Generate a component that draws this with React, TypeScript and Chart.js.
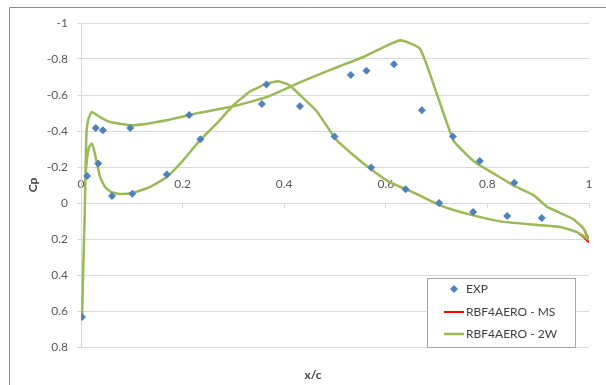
import React, { useEffect, useRef } from "react";
import { Chart, registerables } from "chart.js";

Chart.register(...registerables);

// ---- Data ----
const expX = [0.002, 0.012, 0.029, 0.034, 0.043, 0.061, 0.097, 0.101, 0.169, 0.213, 0.235, 0.356, 0.365, 0.431, 0.499, 0.531, 0.562, 0.571, 0.616, 0.639, 0.671, 0.705, 0.732, 0.772, 0.785, 0.839, 0.853, 0.907];
const expCp = [0.633, -0.15, -0.417, -0.219, -0.404, -0.039, -0.417, -0.052, -0.159, -0.489, -0.354, -0.55, -0.658, -0.537, -0.369, -0.711, -0.735, -0.197, -0.771, -0.076, -0.515, 0.0, -0.369, 0.05, -0.233, 0.072, -0.113, 0.083];

// RBF4AERO - 2W : upper side (trailing edge -> leading edge), then lower side (leading edge -> trailing edge)
const upperX2W = [1.0, 0.989, 0.969, 0.943, 0.917, 0.89, 0.851, 0.815, 0.779, 0.755, 0.733, 0.7, 0.667, 0.628, 0.556, 0.497, 0.431, 0.366, 0.3, 0.234, 0.169, 0.102, 0.057, 0.037, 0.021, 0.015, 0.011, 0.009, 0.007, 0.004, 0.002];
const upperCp2W = [0.2, 0.14, 0.09, 0.055, 0.02, -0.045, -0.098, -0.16, -0.219, -0.28, -0.348, -0.61, -0.858, -0.904, -0.811, -0.747, -0.67, -0.589, -0.537, -0.502, -0.46, -0.432, -0.45, -0.478, -0.505, -0.47, -0.4, -0.2, 0.1, 0.4, 0.64];
const lowerX2W = [0.004, 0.007, 0.009, 0.012, 0.016, 0.021, 0.026, 0.037, 0.047, 0.06, 0.077, 0.103, 0.136, 0.169, 0.201, 0.234, 0.267, 0.3, 0.333, 0.366, 0.388, 0.41, 0.431, 0.464, 0.503, 0.556, 0.605, 0.661, 0.707, 0.759, 0.825, 0.89, 0.943, 0.976, 1.0];
const lowerCp2W = [0.4, 0.1, -0.15, -0.25, -0.31, -0.33, -0.29, -0.15, -0.09, -0.06, -0.05, -0.057, -0.09, -0.145, -0.237, -0.348, -0.441, -0.543, -0.62, -0.663, -0.676, -0.655, -0.6, -0.51, -0.35, -0.219, -0.12, -0.05, 0.013, 0.059, 0.102, 0.12, 0.133, 0.161, 0.205];

// RBF4AERO - MS (almost entirely hidden beneath 2W)
const upperXMS = [1.0, 0.989, 0.969, 0.943, 0.917, 0.89, 0.851, 0.815, 0.779, 0.755, 0.733, 0.7, 0.668, 0.628, 0.556, 0.497, 0.431, 0.366, 0.3, 0.234, 0.169, 0.102, 0.057, 0.037, 0.021, 0.015, 0.011, 0.009, 0.007, 0.004, 0.002];
const upperCpMS = [0.22, 0.145, 0.09, 0.055, 0.02, -0.045, -0.098, -0.16, -0.219, -0.28, -0.346, -0.607, -0.855, -0.902, -0.811, -0.747, -0.67, -0.589, -0.537, -0.502, -0.46, -0.432, -0.45, -0.478, -0.505, -0.47, -0.4, -0.2, 0.1, 0.4, 0.64];
const lowerXMS = [0.004, 0.007, 0.009, 0.012, 0.016, 0.021, 0.026, 0.037, 0.047, 0.06, 0.077, 0.103, 0.136, 0.169, 0.201, 0.234, 0.267, 0.3, 0.333, 0.366, 0.388, 0.41, 0.431, 0.464, 0.503, 0.556, 0.605, 0.661, 0.707, 0.759, 0.825, 0.89, 0.943, 0.976, 1.0];
const lowerCpMS = [0.4, 0.1, -0.15, -0.25, -0.31, -0.33, -0.29, -0.15, -0.09, -0.06, -0.05, -0.057, -0.09, -0.145, -0.237, -0.348, -0.441, -0.543, -0.62, -0.663, -0.676, -0.655, -0.6, -0.51, -0.35, -0.219, -0.12, -0.05, 0.013, 0.059, 0.102, 0.12, 0.133, 0.163, 0.22];

const xTicks = { min: 0, max: 1, step: 0.2 };
const yTicks = { min: -1, max: 0.8, step: 0.2 };
const legendLabels = ["EXP", "RBF4AERO - MS", "RBF4AERO - 2W"];
const xTitle = "x/c";
const yTitle = "Cp";

const EXP_COLOR = "#4F81BD";
const MS_COLOR = "#FF0000";
const W2_COLOR = "#9BBB59";
const FONT = "Lato";

const toPts = (xs: number[], ys: number[]) => xs.map((x, i) => ({ x, y: ys[i] }));
const fmt = (v: number) => {
  const r = Math.round(v * 10) / 10;
  return r === 0 ? "0" : String(r);
};

const framePlugin = {
  id: "frame",
  afterDraw(chart: any) {
    const ctx = chart.ctx;
    ctx.save();
    ctx.strokeStyle = "#8c8c8c";
    ctx.lineWidth = 1;
    ctx.beginPath();
    ctx.moveTo(9.5, 385);
    ctx.lineTo(9.5, 7.5);
    ctx.lineTo(606, 7.5);
    ctx.stroke();
    ctx.restore();
  },
};

const extrasPlugin = {
  id: "extras",
  afterDraw(chart: any) {
    const ctx = chart.ctx;
    ctx.save();
    // x axis title
    ctx.fillStyle = "#404040";
    ctx.font = `bold 12px ${FONT}`;
    ctx.textAlign = "center";
    ctx.textBaseline = "middle";
    ctx.fillText(xTitle, 313, 375);

    // legend box
    const bx = 427.5, by = 278.5, bw = 148, bh = 69;
    ctx.fillStyle = "#ffffff";
    ctx.fillRect(bx, by, bw, bh);
    ctx.strokeStyle = "#a6a6a6";
    ctx.lineWidth = 1;
    ctx.strokeRect(bx, by, bw, bh);

    const rows = [289, 312, 334];
    // EXP marker
    ctx.fillStyle = EXP_COLOR;
    ctx.beginPath();
    ctx.moveTo(454, rows[0] - 4);
    ctx.lineTo(458, rows[0]);
    ctx.lineTo(454, rows[0] + 4);
    ctx.lineTo(450, rows[0]);
    ctx.closePath();
    ctx.fill();
    // MS line
    ctx.strokeStyle = MS_COLOR;
    ctx.lineWidth = 2;
    ctx.beginPath();
    ctx.moveTo(444, rows[1]);
    ctx.lineTo(464, rows[1]);
    ctx.stroke();
    // 2W line
    ctx.strokeStyle = W2_COLOR;
    ctx.lineWidth = 2.5;
    ctx.beginPath();
    ctx.moveTo(444, rows[2]);
    ctx.lineTo(464, rows[2]);
    ctx.stroke();

    ctx.fillStyle = "#404040";
    ctx.font = `12px ${FONT}`;
    ctx.textAlign = "left";
    ctx.textBaseline = "middle";
    legendLabels.forEach((t, i) => ctx.fillText(t, 466, rows[i]));
    ctx.restore();
  },
};

export default function App() {
  const ref = useRef<HTMLCanvasElement | null>(null);
  useEffect(() => {
    if (!ref.current) return;
    const chart = new Chart(ref.current, {
      type: "line",
      data: {
        datasets: [
          {
            label: legendLabels[0],
            data: toPts(expX, expCp),
            showLine: false,
            pointStyle: "rectRot",
            pointRadius: 4,
            pointBackgroundColor: EXP_COLOR,
            pointBorderColor: EXP_COLOR,
            pointBorderWidth: 0,
            order: 0,
          },
          {
            label: legendLabels[1],
            data: [...toPts(upperXMS, upperCpMS), ...toPts(lowerXMS, lowerCpMS)],
            borderColor: MS_COLOR,
            borderWidth: 1.2,
            pointRadius: 0,
            tension: 0.15,
            fill: false,
            order: 2,
          },
          {
            label: legendLabels[2],
            data: [...toPts(upperX2W, upperCp2W), ...toPts(lowerX2W, lowerCp2W)],
            borderColor: W2_COLOR,
            borderWidth: 2.5,
            pointRadius: 0,
            tension: 0.15,
            fill: false,
            order: 1,
          },
        ],
      },
      options: {
        responsive: false,
        animation: false,
        layout: { padding: { left: 0, top: 23, right: 17, bottom: 38 } },
        plugins: { legend: { display: false }, tooltip: { enabled: false } },
        scales: {
          x: {
            type: "linear",
            position: { y: 0 } as any,
            min: xTicks.min,
            max: xTicks.max,
            ticks: {
              stepSize: xTicks.step,
              mirror: true,
              padding: -15.5,
              color: "#595959",
              font: { family: FONT, size: 12 },
              maxRotation: 0,
              callback: (v: any) => fmt(Number(v)),
            },
            grid: { drawOnChartArea: false, drawTicks: true, tickLength: 4, color: "#d9d9d9" },
            border: { display: true, color: "#d9d9d9", width: 1 },
          },
          y: {
            type: "linear",
            reverse: true,
            min: yTicks.min,
            max: yTicks.max,
            ticks: {
              stepSize: yTicks.step,
              padding: 9,
              color: "#595959",
              font: { family: FONT, size: 12 },
              callback: (v: any) => fmt(Number(v)),
            },
            grid: { color: "#d9d9d9", lineWidth: 1, tickLength: 4 },
            border: { display: true, color: "#d9d9d9", width: 1 },
            title: {
              display: true,
              text: yTitle,
              color: "#404040",
              font: { family: FONT, size: 12, weight: "bold" },
              padding: { top: 26, bottom: 0 },
            },
            afterFit: (s: any) => {
              s.width = 81;
            },
          },
        },
      },
      plugins: [framePlugin, extrasPlugin],
    });
    return () => chart.destroy();
  }, []);
  return (
    <div style={{ position: "absolute", left: 0, top: 0, width: 606, height: 385, background: "#fff" }}>
      <canvas ref={ref} width={606} height={385} />
    </div>
  );
}
